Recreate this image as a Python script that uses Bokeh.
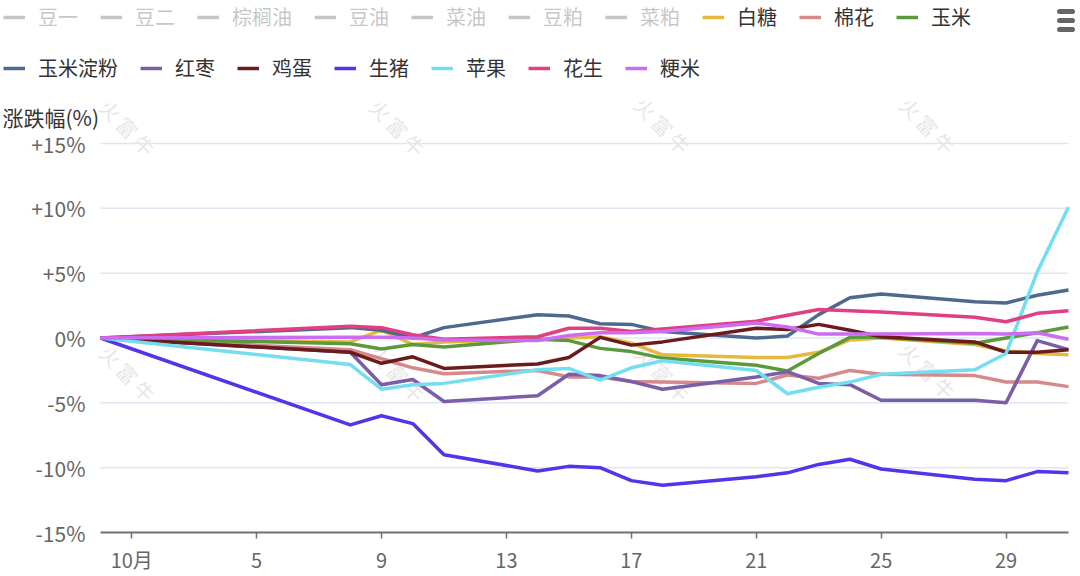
import pandas as pd
from bokeh.plotting import figure
from bokeh.models import Range1d, FixedTicker, Legend, LegendItem, Label, ColumnDataSource
from bokeh.embed import file_html
from bokeh.resources import INLINE

# ---------------- data ----------------
dates = ["2024-09-30", "2024-10-08", "2024-10-09", "2024-10-10", "2024-10-11",
         "2024-10-14", "2024-10-15", "2024-10-16", "2024-10-17", "2024-10-18",
         "2024-10-21", "2024-10-22", "2024-10-23", "2024-10-24", "2024-10-25",
         "2024-10-28", "2024-10-29", "2024-10-30", "2024-10-31"]

hidden_names = ["豆一", "豆二", "棕榈油", "豆油", "菜油", "豆粕", "菜粕"]

baitang = [0, -0.3, 0.6, -0.5, -0.3, -0.1, 0.0, 0.1, -0.4, -1.3, -1.5, -1.5, -1.1, -0.15, 0.0, -0.5, -1.0, -1.2, -1.3]
mianhua = [0, -0.9, -1.6, -2.3, -2.75, -2.5, -3.0, -3.0, -3.35, -3.4, -3.5, -2.85, -3.1, -2.5, -2.8, -2.9, -3.4, -3.4, -3.75]
yumi = [0, -0.45, -0.85, -0.5, -0.7, -0.1, -0.2, -0.8, -1.05, -1.55, -2.1, -2.55, -1.2, 0.05, 0.05, -0.4, 0.0, 0.4, 0.85]
yumidianfen = [0, 0.8, 0.6, 0.0, 0.8, 1.8, 1.7, 1.1, 1.05, 0.5, 0.0, 0.15, 1.8, 3.1, 3.4, 2.8, 2.7, 3.3, 3.7]
hongzao = [0, -1.1, -3.6, -3.2, -4.9, -4.45, -2.8, -2.9, -3.35, -3.95, -3.0, -2.6, -3.5, -3.6, -4.8, -4.8, -5.0, -0.2, -0.9]
jidan = [0, -1.1, -1.95, -1.45, -2.35, -2.0, -1.5, 0.05, -0.55, -0.3, 0.75, 0.65, 1.05, 0.6, 0.1, -0.3, -1.1, -1.1, -0.9]
shengzhu = [0, -6.7, -6.0, -6.6, -9.0, -10.25, -9.9, -10.0, -11.0, -11.35, -10.7, -10.4, -9.75, -9.35, -10.1, -10.9, -11.0, -10.3, -10.4]
pingguo = [0, -2.05, -3.95, -3.6, -3.5, -2.45, -2.35, -3.25, -2.3, -1.75, -2.5, -4.3, -3.8, -3.4, -2.8, -2.45, -1.2, 5.1, 10.1]
huasheng = [0, 0.9, 0.8, 0.25, -0.1, 0.1, 0.75, 0.75, 0.5, 0.7, 1.3, 1.75, 2.2, 2.1, 2.0, 1.6, 1.25, 1.9, 2.1]
jingmi = [0, 0.05, 0.05, 0.0, -0.15, -0.2, 0.2, 0.4, 0.4, 0.5, 1.15, 0.85, 0.3, 0.3, 0.3, 0.35, 0.3, 0.4, -0.1]

series_names = ["白糖", "棉花", "玉米", "玉米淀粉", "红枣", "鸡蛋", "生猪", "苹果", "花生", "粳米"]
series_values = [baitang, mianhua, yumi, yumidianfen, hongzao, jidan, shengzhu, pingguo, huasheng, jingmi]
series_colors = ["#e6b83f", "#d4898a", "#5b9a3c", "#4d6a8d", "#7b5ea7",
                 "#6b1b1b", "#5533ea", "#72def0", "#e03f82", "#cc6cf2"]

x_tick_days = [1, 5, 9, 13, 17, 21, 25, 29]
x_tick_labels = ["10月", "5", "9", "13", "17", "21", "25", "29"]
y_ticks = [-15, -10, -5, 0, 5, 10, 15]
y_tick_labels = ["-15%", "-10%", "-5%", "0%", "+5%", "+10%", "+15%"]
y_title = "涨跌幅(%)"
watermark = "火 富 牛"

FONT = "Noto Sans CJK SC"

base = pd.Timestamp("2024-09-30")
xdays = [(pd.Timestamp(d) - base).days for d in dates]
day_min, day_max = min(xdays), max(xdays)

# ---------------- layout geometry (pixels) ----------------
W, H = 1080, 576
PLOT_L, PLOT_R, PLOT_T, PLOT_B = 100, 1068, 143, 532   # data area inside the frame
px_per_day = (PLOT_R - PLOT_L) / (day_max - day_min)
px_per_pct = (PLOT_B - PLOT_T) / (y_ticks[-1] - y_ticks[0])
x_start = day_min - PLOT_L / px_per_day
x_end = day_max + (W - PLOT_R) / px_per_day
y_end = y_ticks[-1] + PLOT_T / px_per_pct


def px2x(px):
    return day_min + (px - PLOT_L) / px_per_day


def py2y(py):
    return y_ticks[-1] + (PLOT_T - py) / px_per_pct


p = figure(width=W, height=H, x_range=Range1d(x_start, x_end),
           y_range=Range1d(y_ticks[0], y_end),
           output_backend="svg", toolbar_location=None,
           min_border_left=0, min_border_right=0, min_border_top=0,
           min_border_bottom=H - PLOT_B)
p.outline_line_color = None
p.xgrid.visible = False
p.ygrid.visible = False

# watermarks
for wpx, wpy in [(127, 127), (397, 127), (662, 125), (927, 125),
                 (127, 373), (397, 373), (662, 373), (927, 370)]:
    p.add_layout(Label(x=px2x(wpx), y=py2y(wpy), text=watermark, angle=-0.8,
                       text_align="center", text_baseline="middle", text_font=FONT,
                       text_font_size="20px", text_color="#d0d0d0", text_alpha=0.55,
                       level="underlay"))

# horizontal grid lines at the y ticks, spanning the data extent
p.segment(x0=[day_min] * len(y_ticks), x1=[day_max] * len(y_ticks), y0=y_ticks, y1=y_ticks,
          line_color="#e0e6f1", line_width=1.5)

renderers = {}
for nm, vals, c in zip(series_names, series_values, series_colors):
    src = ColumnDataSource(dict(x=xdays, y=vals))
    renderers[nm] = p.line("x", "y", source=src, line_color=c, line_width=3.5, line_join="round")

row1_items, row2_items = [], []
for nm in hidden_names:
    r = p.line(x=[day_min, day_min], y=[0, 0], line_color="#333333", line_width=3.5)
    r.visible = False
    row1_items.append(LegendItem(label=nm, renderers=[r]))
for nm in series_names:
    item = LegendItem(label=nm, renderers=[renderers[nm]])
    if nm in ("白糖", "棉花", "玉米"):
        row1_items.append(item)
    else:
        row2_items.append(item)

ITEM_H = 28


def mk_legend(items, center_py):
    return Legend(items=items, location=(3, PLOT_B - center_py - ITEM_H / 2),
                  orientation="horizontal", padding=0, margin=0, spacing=22,
                  label_standoff=13, glyph_width=22, glyph_height=ITEM_H, label_height=ITEM_H,
                  label_text_font=FONT, label_text_font_size="20px",
                  label_text_color="#333333", click_policy="hide",
                  border_line_color=None, background_fill_alpha=0,
                  inactive_fill_color="white", inactive_fill_alpha=0.72)


p.add_layout(mk_legend(row1_items, 17))
p.add_layout(mk_legend(row2_items, 68))

# menu icon (top right)
p.segment(x0=[px2x(1059)] * 3, x1=[px2x(1072)] * 3,
          y0=[py2y(v) for v in (11, 20, 29)], y1=[py2y(v) for v in (11, 20, 29)],
          line_color="#666666", line_width=5, line_cap="round")

# y axis (labels sit inside the left margin of the frame)
p.yaxis.ticker = FixedTicker(ticks=y_ticks)
p.yaxis.major_label_overrides = {v: s for v, s in zip(y_ticks, y_tick_labels)}
p.yaxis.axis_line_color = None
p.yaxis.major_tick_line_color = None
p.yaxis.major_tick_out = 0
p.yaxis.major_tick_in = 0
p.yaxis.minor_tick_line_color = None
p.yaxis.major_label_standoff = -85
p.yaxis.major_label_text_font = FONT
p.yaxis.major_label_text_font_size = "21px"
p.yaxis.major_label_text_color = "#666666"

# x axis
p.xaxis.ticker = FixedTicker(ticks=x_tick_days)
p.xaxis.bounds = (day_min, day_max)
p.xaxis.major_label_overrides = {d: s for d, s in zip(x_tick_days, x_tick_labels)}
p.xaxis.axis_line_color = "#6e7079"
p.xaxis.axis_line_width = 2
p.xaxis.major_tick_line_color = "#6e7079"
p.xaxis.major_tick_line_width = 1.5
p.xaxis.major_tick_in = 0
p.xaxis.major_tick_out = 6
p.xaxis.minor_tick_line_color = None
p.xaxis.major_label_standoff = 6
p.xaxis.major_label_text_font = FONT
p.xaxis.major_label_text_font_size = "20px"
p.xaxis.major_label_text_color = "#666666"

# y axis title
p.add_layout(Label(x=px2x(2), y=py2y(131), text=y_title, text_align="left",
                   text_baseline="bottom", text_font=FONT, text_font_size="21px",
                   text_color="#333333"))

open("out.html", "w").write(file_html(p, INLINE))
